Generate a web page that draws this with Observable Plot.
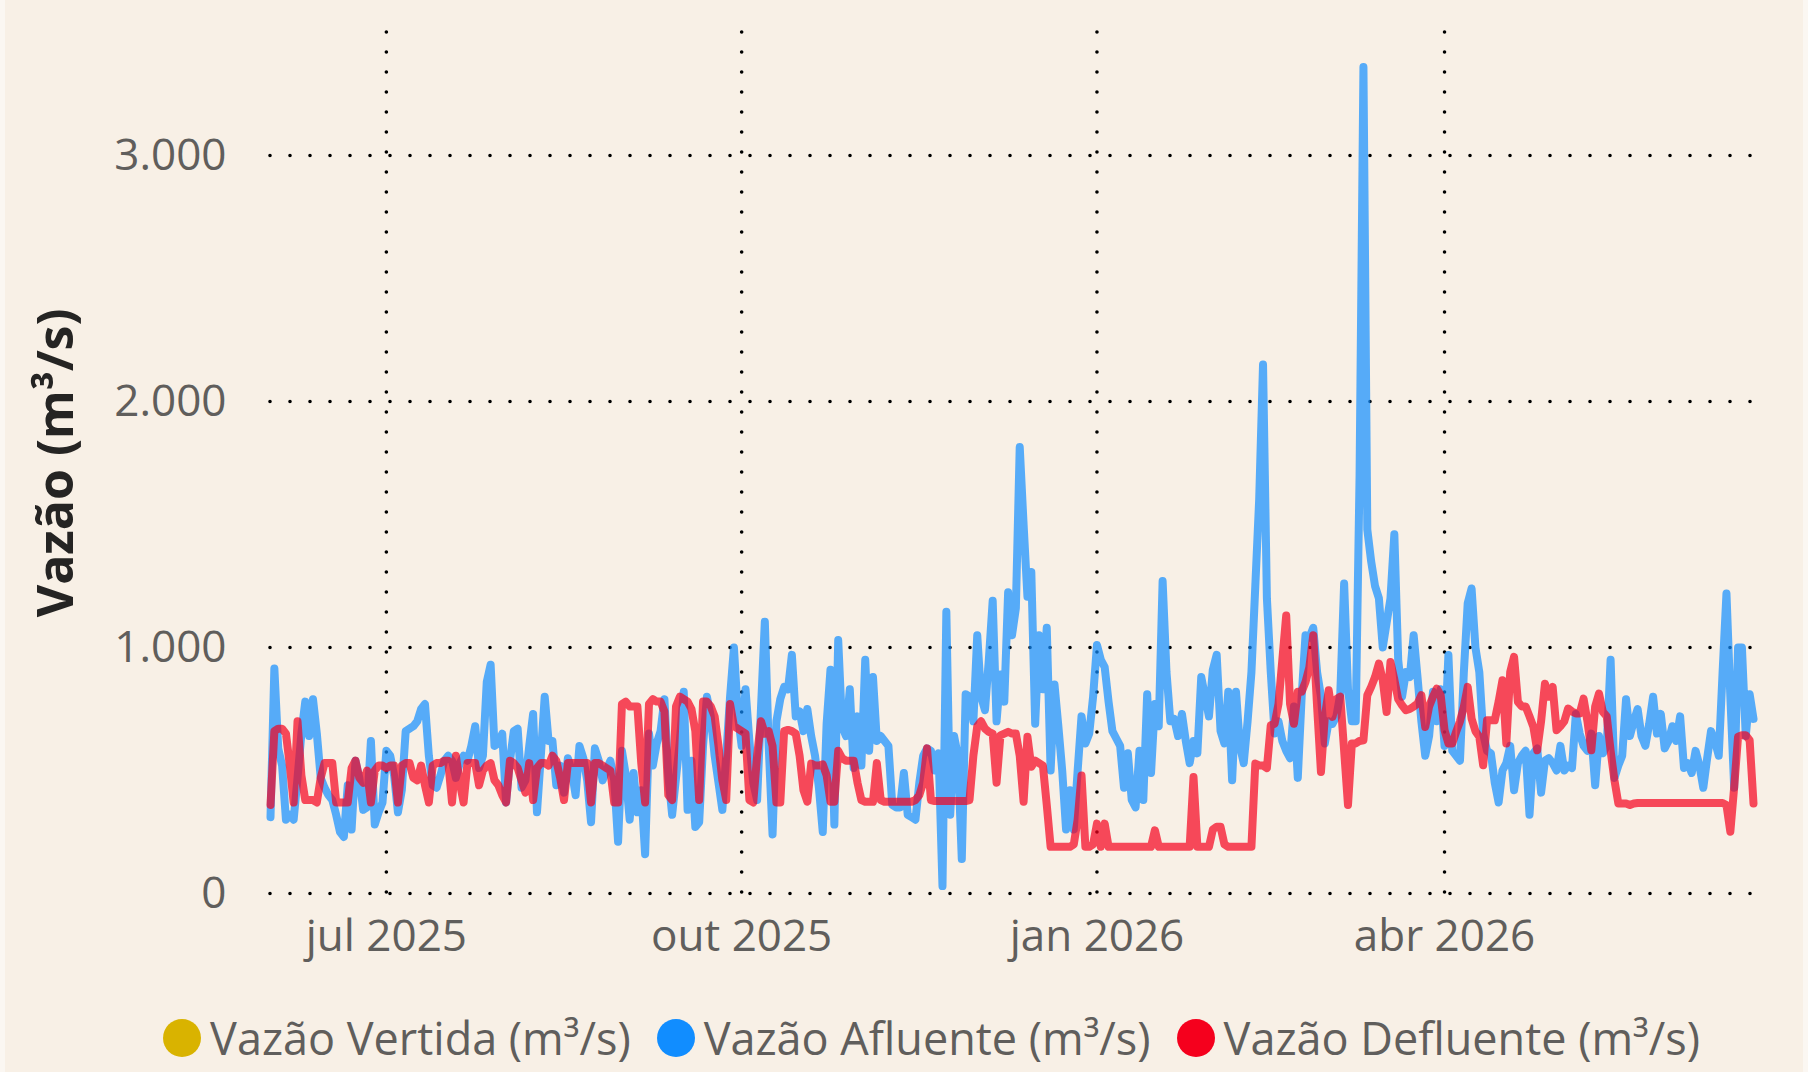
<!DOCTYPE html>
<html>
<head>
<meta charset="utf-8">
<script src="https://cdn.jsdelivr.net/npm/d3@7"></script>
<script src="https://cdn.jsdelivr.net/npm/@observablehq/plot@0.6"></script>
<style>
  html, body { margin: 0; padding: 0; }
  body { width: 1808px; height: 1072px; overflow: hidden; background: #f8f0e6; position: relative;
         font-family: "Segoe UI", "Open Sans", sans-serif; }
  .strip { position: absolute; top: 0; width: 5px; height: 1072px; background: #fbf7f2; }
  #chart { position: absolute; left: 0; top: 0; }
  #legend { position: absolute; left: 0; top: 1014px; width: 1808px; height: 48px; box-sizing: border-box;
            padding-left: 55px; display: flex; justify-content: center; align-items: center; gap: 26px;
            font-size: 45px; line-height: 48px; color: #605E5C; white-space: nowrap; }
  .item { display: flex; align-items: center; gap: 9px; }
  .dot { width: 38px; height: 38px; border-radius: 50%; display: inline-block; }
  g[aria-label="y-axis label"] { font-size: 50px; font-weight: bold; fill: #252423; }
</style>
</head>
<body>
<div class="strip" style="left:0"></div>
<div class="strip" style="right:0"></div>
<div id="chart"></div>
<div id="legend"></div>
<script>
// ---- data (daily, starting 2025-06-01) ----
const startDate = "2025-06-01";

const afluente = [
  310, 915, 590, 520, 300, 320, 300, 470, 650, 780,
  640, 790, 650, 470, 430, 400, 380, 320, 250, 230,
  440, 260, 540, 470, 340, 350, 620, 280, 330, 370,
  580, 560, 480, 330, 420, 660, 670, 680, 700, 750,
  770, 560, 440, 430, 480, 540, 560, 540, 470, 530,
  560, 540, 600, 680, 510, 560, 860, 930, 600, 610,
  650, 370, 540, 660, 670, 430, 460, 600, 730, 330,
  560, 800, 620, 620, 440, 520, 410, 550, 500, 400,
  600, 550, 460, 290, 590, 540, 460, 500, 540, 460,
  210, 580, 480, 300, 490, 330, 420, 160, 650, 520,
  610, 660, 790, 480, 320, 470, 620, 820, 340, 540,
  270, 290, 600, 800, 720, 560, 450, 340, 560, 800,
  1000, 730, 600, 830, 620, 450, 380, 750, 1105, 600,
  240, 700, 790, 840, 830, 970, 720, 740, 660, 750,
  640, 560, 430, 250, 690, 910, 280, 1030, 680, 640,
  830, 510, 720, 520, 950, 580, 880, 620, 640, 620,
  600, 360, 350, 350, 490, 320, 310, 300, 450, 560,
  590, 580, 500, 570, 30, 1145, 320, 640, 560, 140,
  810, 800, 700, 1050, 800, 745, 950, 1190, 700, 890,
  780, 1225, 1050, 1160, 1815, 1500, 1206, 1307, 690, 1050,
  830, 1080, 500, 850, 680, 500, 260, 420, 260, 500,
  720, 610, 650, 800, 1010, 950, 920, 780, 660, 630,
  600, 430, 570, 380, 350, 580, 380, 810, 490, 770,
  680, 1270, 900, 700, 710, 640, 730, 620, 530, 620,
  570, 880, 800, 720, 910, 970, 660, 610, 820, 460,
  820, 600, 530, 700, 900, 1250, 1600, 2150, 1200, 900,
  650, 700, 620, 580, 550, 760, 470, 800, 1050, 1040,
  1080, 900, 800, 610, 700, 690, 720, 810, 1260, 830,
  700, 700, 1700, 3360, 1480, 1350, 1250, 1200, 1000, 1100,
  1200, 1460, 950, 800, 900, 880, 1050, 880, 700, 560,
  640, 820, 700, 830, 600, 970, 580, 560, 540, 900,
  1180, 1240, 1000, 900, 650, 580, 570, 450, 370, 500,
  530, 600, 420, 530, 560, 580, 320, 570, 590, 410,
  540, 550, 530, 500, 600, 500, 520, 510, 730, 650,
  600, 580, 650, 440, 640, 570, 600, 950, 470, 520,
  560, 790, 640, 700, 750, 640, 600, 690, 800, 650,
  730, 590, 620, 680, 620, 720, 510, 530, 490, 580,
  520, 430, 550, 660, 620, 560, 900, 1220, 800, 430,
  1000, 1000, 640, 810, 710
];

const defluente = [
  360, 660, 670, 670, 650, 520, 370, 700, 480, 380,
  380, 380, 370, 470, 530, 530, 530, 370, 370, 370,
  370, 510, 540, 470, 450, 500, 370, 500, 520, 520,
  510, 520, 520, 370, 520, 530, 530, 470, 460, 520,
  440, 370, 520, 530, 530, 540, 540, 370, 560, 450,
  370, 530, 530, 530, 440, 500, 520, 530, 460, 440,
  400, 370, 540, 530, 510, 460, 410, 530, 380, 510,
  530, 530, 520, 560, 540, 470, 380, 530, 530, 530,
  530, 530, 530, 370, 530, 530, 520, 510, 500, 370,
  370, 770, 780, 760, 760, 760, 530, 370, 770, 790,
  780, 780, 740, 400, 380, 760, 800, 790, 780, 750,
  660, 380, 780, 780, 760, 720, 600, 460, 380, 770,
  680, 670, 660, 650, 380, 370, 560, 700, 650, 660,
  600, 370, 370, 660, 665, 660, 650, 560, 420, 373,
  528, 520, 520, 525, 480, 373, 373, 580, 550, 540,
  540, 540, 450, 380, 373, 373, 373, 530, 380, 373,
  373, 373, 373, 373, 373, 373, 373, 380, 400, 450,
  590, 380, 376, 376, 376, 376, 376, 376, 376, 376,
  376, 380, 560, 680, 700, 670, 657, 650, 450, 643,
  650, 657, 650, 650, 560, 373, 637, 515, 540, 530,
  520, 360, 190, 190, 190, 190, 190, 190, 200, 300,
  480, 190, 190, 200, 284, 190, 284, 190, 190, 190,
  190, 190, 190, 190, 190, 190, 190, 190, 190, 257,
  190, 190, 190, 190, 190, 190, 190, 190, 190, 474,
  190, 190, 190, 190, 260, 271, 271, 200, 190, 190,
  190, 190, 190, 190, 190, 528, 521, 520, 510, 684,
  690, 770, 950, 1130, 770, 690, 820, 820, 860, 920,
  1050, 760, 494, 718, 826, 718, 790, 800, 580, 360,
  610, 610, 620, 623, 806, 840, 880, 935, 867, 738,
  941, 870, 790, 765, 745, 750, 760, 772, 806, 677,
  760, 800, 833, 806, 664, 610, 610, 657, 700, 759,
  840, 711, 660, 637, 521, 704, 704, 704, 780, 867,
  610, 900, 962, 779, 760, 760, 720, 677, 582, 700,
  853, 800, 840, 664, 680, 700, 752, 740, 732, 732,
  792, 700, 582, 760, 813, 738, 720, 580, 460, 366,
  366, 366, 360, 366, 368, 368, 368, 368, 368, 368,
  368, 368, 368, 368, 368, 368, 368, 368, 368, 368,
  368, 368, 368, 368, 368, 368, 368, 360, 251, 433,
  637, 643, 643, 623, 366
];

const vertida = [];

const yTicks = [0, 1000, 2000, 3000];
const yMax = 3500;
const xTickDates = ["2025-07-01", "2025-10-01", "2026-01-01", "2026-04-01"];
const xTickLabels = ["jul 2025", "out 2025", "jan 2026", "abr 2026"];
const yLabel = "Vazão (m³/s)";
const seriesNames = ["Vazão Vertida (m³/s)", "Vazão Afluente (m³/s)", "Vazão Defluente (m³/s)"];
const seriesColors = ["#D9B300", "#118DFF", "#F5001D"];

// ---- build ----
const t0 = new Date(startDate + "T00:00:00Z");
const dayOf = i => d3.utcDay.offset(t0, i);
const toRows = arr => arr.map((v, i) => ({date: dayOf(i), value: v}));
const tEnd = dayOf(afluente.length - 1);
const xDates = xTickDates.map(d => new Date(d + "T00:00:00Z"));
const labelMap = new Map(xDates.map((d, i) => [+d, xTickLabels[i]]));

const ptBR = d3.formatLocale({decimal: ",", thousands: ".", grouping: [3], currency: ["R$", ""]});
const fmt = ptBR.format(",d");

const gridStyle = {stroke: "#000", strokeOpacity: 1, strokeWidth: 3.6, strokeDasharray: "0,20", strokeLinecap: "round"};
const lineStyle = {strokeWidth: 8, strokeOpacity: 0.7, strokeLinejoin: "round", strokeLinecap: "round"};

const chart = Plot.plot({
  width: 1808,
  height: 985,
  marginLeft: 270,
  marginRight: 55,
  marginTop: 32,
  marginBottom: 92,
  style: {background: "transparent", fontFamily: "'Segoe UI', 'Open Sans', sans-serif", color: "#605E5C", overflow: "visible"},
  x: {type: "utc", domain: [t0, tEnd]},
  y: {domain: [0, yMax]},
  marks: [
    Plot.gridY(yTicks, gridStyle),
    Plot.gridX(xDates, gridStyle),
    Plot.axisY(yTicks, {tickSize: 0, tickPadding: 44, tickFormat: fmt, fontSize: 44,
      label: yLabel, labelAnchor: "center", labelArrow: "none", labelOffset: 233}),
    Plot.axisX(xDates, {tickSize: 0, tickPadding: 26, tickFormat: d => labelMap.get(+d), fontSize: 44, label: null}),
    Plot.lineY(toRows(vertida), {x: "date", y: "value", stroke: seriesColors[0], ...lineStyle}),
    Plot.lineY(toRows(afluente), {x: "date", y: "value", stroke: seriesColors[1], ...lineStyle}),
    Plot.lineY(toRows(defluente), {x: "date", y: "value", stroke: seriesColors[2], ...lineStyle})
  ]
});
document.getElementById("chart").appendChild(chart);

const legend = document.getElementById("legend");
seriesNames.forEach((name, i) => {
  const item = document.createElement("div");
  item.className = "item";
  const dot = document.createElement("span");
  dot.className = "dot";
  dot.style.background = seriesColors[i];
  const txt = document.createElement("span");
  txt.textContent = name;
  item.appendChild(dot);
  item.appendChild(txt);
  legend.appendChild(item);
});
</script>
</body>
</html>
